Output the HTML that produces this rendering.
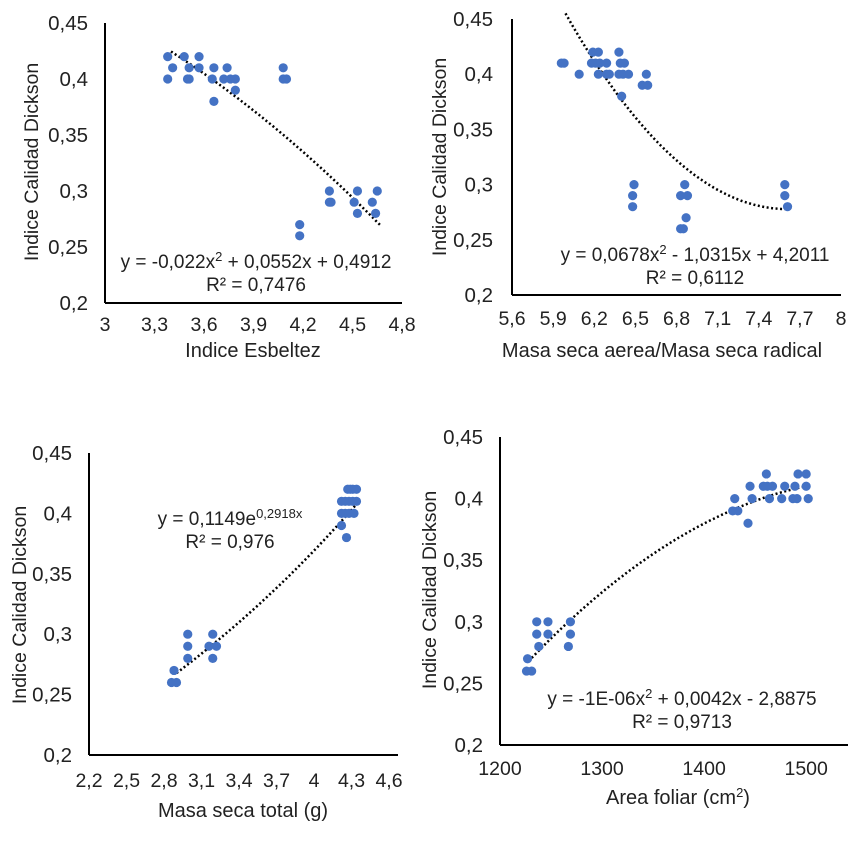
<!DOCTYPE html>
<html><head><meta charset="utf-8">
<style>
body{margin:0;background:#fff;}
svg text{font-family:"Liberation Sans",Arial,sans-serif;fill:#222;}
</style></head>
<body>
<svg id="c" width="867" height="846" xmlns="http://www.w3.org/2000/svg"></svg>
<script>
// Panel 1: Indice Esbeltez
const p1X = [3.38,3.38,3.41,3.48,3.50,3.51,3.51,3.57,3.57,3.65,3.66,3.66,3.72,3.74,3.76,3.79,3.79,4.08,4.08,4.10,4.18,4.18,4.36,4.36,4.37,4.53,4.51,4.53,4.62,4.64,4.65];
const p1Y = [0.40,0.42,0.41,0.42,0.40,0.40,0.41,0.42,0.41,0.40,0.41,0.38,0.40,0.41,0.40,0.40,0.39,0.41,0.40,0.40,0.27,0.26,0.30,0.29,0.29,0.30,0.29,0.28,0.29,0.28,0.30];
const p1Ticks = ["3","3,3","3,6","3,9","4,2","4,5","4,8"];
const p1Coef = [-0.022,0.0552,0.4912];
// Panel 2: Masa seca aerea / radical
const p2X = [5.96,5.98,6.09,6.19,6.23,6.18,6.21,6.24,6.29,6.23,6.29,6.31,6.38,6.39,6.42,6.38,6.41,6.45,6.40,6.58,6.55,6.59,6.49,6.48,6.48,6.86,6.83,6.88,6.87,6.83,6.85,7.59,7.59,7.61];
const p2Y = [0.41,0.41,0.40,0.42,0.42,0.41,0.41,0.41,0.41,0.40,0.40,0.40,0.42,0.41,0.41,0.40,0.40,0.40,0.38,0.40,0.39,0.39,0.30,0.29,0.28,0.30,0.29,0.29,0.27,0.26,0.26,0.30,0.29,0.28];
const p2Ticks = ["5,6","5,9","6,2","6,5","6,8","7,1","7,4","7,7","8"];
const p2Coef = [0.0678,-1.0315,4.2011];
// Panel 3: Masa seca total
const p3X = [2.88,2.86,2.90,2.99,2.99,2.99,3.19,3.16,3.22,3.19,4.22,4.26,4.27,4.29,4.31,4.34,4.22,4.25,4.28,4.31,4.34,4.22,4.25,4.28,4.32];
const p3Y = [0.27,0.26,0.26,0.30,0.29,0.28,0.30,0.29,0.29,0.28,0.39,0.38,0.42,0.42,0.42,0.42,0.41,0.41,0.41,0.41,0.41,0.40,0.40,0.40,0.40];
const p3Ticks = ["2,2","2,5","2,8","3,1","3,4","3,7","4","4,3","4,6"];
const p3Coef = [0.1149,0.2918];
// Panel 4: Area foliar
const p4X = [1227,1226,1231,1236,1236,1238,1247,1247,1267,1269,1269,1430,1428,1433,1443,1445,1447,1461,1458,1462,1467,1464,1476,1479,1487,1491,1489,1492,1500,1500,1502];
const p4Y = [0.27,0.26,0.26,0.30,0.29,0.28,0.30,0.29,0.28,0.30,0.29,0.40,0.39,0.39,0.38,0.41,0.40,0.42,0.41,0.41,0.41,0.40,0.40,0.41,0.40,0.40,0.41,0.42,0.42,0.41,0.40];
const p4Ticks = ["1200","1300","1400","1500"];
const p4Coef = [-1.274e-6,0.000869,0.268,1228];

const svg=document.getElementById('c');
const NS='http://www.w3.org/2000/svg';
function mk(tag,attrs,parent){const e=document.createElementNS(NS,tag);for(const k in attrs)e.setAttribute(k,attrs[k]);(parent||svg).appendChild(e);return e;}
function txt(x,y,s,size,anchor,parent){const t=mk('text',{x:x,y:y,'font-size':size,'text-anchor':anchor||'middle'},parent);t.textContent=s;return t;}

function panel(cfg){
  const g=mk('g',{});
  
  
  const sx=v=>cfg.x0+(v-cfg.xmin)/(cfg.xmax-cfg.xmin)*(cfg.x1-cfg.x0);
  const sy=v=>cfg.y0+(0.45-v)/0.25*(cfg.y1-cfg.y0);
  const ya=mk('line',{x1:cfg.x0,y1:cfg.y0,x2:cfg.x0,y2:cfg.y1,stroke:'#000','stroke-width':2},g);
  
  
  const xa=mk('line',{x1:cfg.x0,y1:cfg.y1,x2:cfg.xaxEnd,y2:cfg.y1,stroke:'#000','stroke-width':2},g);
  
  
  ['0,45','0,4','0,35','0,3','0,25','0,2'].forEach((s,i)=>{
    const t=txt(cfg.ylabX,sy(0.45-i*0.05)+7,s,20.5,'end',g);
    
    
  });
  cfg.ticks.forEach((s,i)=>{
    const v=cfg.xmin+i*cfg.step;
    const t=txt(sx(v),cfg.xlabY,s,19.5,'middle',g);
    
    
  });
  const xt=txt(cfg.xtitle[1],cfg.xtitle[2],cfg.xtitle[0],20,'middle',g);
  
  
  if(cfg.sup){const ts=mk('tspan',{'font-size':13,dy:-7},xt);ts.textContent='2';const t2=mk('tspan',{dy:7},xt);t2.textContent=')';}
  const yt=txt(0,0,'Indice Calidad Dickson',19.5,'middle',g);
  yt.setAttribute('transform','translate('+cfg.ytitle[0]+','+cfg.ytitle[1]+') rotate(-90)');
  
  
  let pts=[];
  for(let i=0;i<=80;i++){const v=cfg.tr[0]+(cfg.tr[1]-cfg.tr[0])*i/80;pts.push(sx(v).toFixed(1)+','+sy(cfg.f(v)).toFixed(1));}
  const pl=mk('polyline',{points:pts.join(' '),fill:'none',stroke:'#000','stroke-width':2.5,'stroke-dasharray':'2 2.5'},g);
  
  
  cfg.X.forEach((v,i)=>{
    const c=mk('circle',{cx:sx(v),cy:sy(cfg.Y[i]),r:4.6,fill:'#4472C4'},g);
    
    
  });
  const eq=txt(cfg.eq[0],cfg.eq[1],'',19,'middle',g);
  
  
  cfg.eqParts.forEach(p=>{const ts=mk('tspan',p[1]?{'font-size':13,dy:-7}:{dy:p[2]||0},eq);ts.textContent=p[0];});
  const r2=txt(cfg.eq[0],cfg.eq[1]+23,cfg.r2,19,'middle',g);
  
  
}

panel({name:'panel-esbeltez',X:p1X,Y:p1Y,ticks:p1Ticks,xmin:3,xmax:4.8,step:0.3,x0:105,x1:402,xaxEnd:402,y0:23,y1:303,
  ylabX:88,xlabY:331,xtitle:['Indice Esbeltez',253,357],ytitle:[38,162],
  tr:[3.4,4.67],f:v=>p1Coef[0]*v*v+p1Coef[1]*v+p1Coef[2],
  eq:[256,268],eqParts:[['y = -0,022x'],['2',true],[' + 0,0552x + 0,4912',false,7]],r2:'R² = 0,7476'});
panel({name:'panel-masa-aerea-radical',X:p2X,Y:p2Y,ticks:p2Ticks,xmin:5.6,xmax:8,step:0.3,x0:512,x1:841,xaxEnd:841,y0:19,y1:295,
  ylabX:493,xlabY:325,xtitle:['Masa seca aerea/Masa seca radical',662,357],ytitle:[446,157],
  tr:[5.99,7.62],f:v=>p2Coef[0]*v*v+p2Coef[1]*v+p2Coef[2],
  eq:[695,261],eqParts:[['y = 0,0678x'],['2',true],[' - 1,0315x + 4,2011',false,7]],r2:'R² = 0,6112'});
panel({name:'panel-masa-total',X:p3X,Y:p3Y,ticks:p3Ticks,xmin:2.2,xmax:4.6,step:0.3,x0:89,x1:389,xaxEnd:398,y0:453,y1:755,
  ylabX:72,xlabY:787,xtitle:['Masa seca total (g)',243,817],ytitle:[26,605],
  tr:[2.9,4.33],f:v=>p3Coef[0]*Math.exp(p3Coef[1]*v),
  eq:[230,525],eqParts:[['y = 0,1149e'],['0,2918x',true]],r2:'R² = 0,976'});
panel({name:'panel-area-foliar',X:p4X,Y:p4Y,ticks:p4Ticks,xmin:1200,xmax:1540,step:100,x0:500,x1:847,xaxEnd:848,y0:437,y1:745,
  ylabX:483,xlabY:775,xtitle:['Area foliar (cm',678,804],sup:true,ytitle:[436,590],
  tr:[1228,1500],f:v=>{const t=v-p4Coef[3];return p4Coef[0]*t*t+p4Coef[1]*t+p4Coef[2];},
  eq:[682,705],eqParts:[['y = -1E-06x'],['2',true],[' + 0,0042x - 2,8875',false,7]],r2:'R² = 0,9713'});
</script>
</body></html>
